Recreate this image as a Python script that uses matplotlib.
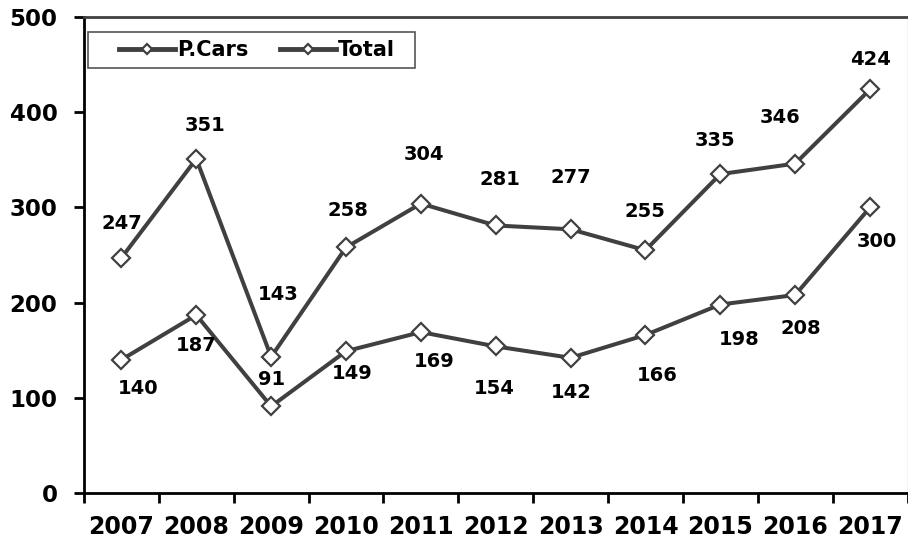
import matplotlib
matplotlib.use('Agg')
import matplotlib.pyplot as plt
from matplotlib.patches import Rectangle
import numpy as np

years = ['2007', '2008', '2009', '2010', '2011', '2012', '2013', '2014', '2015', '2016', '2017']
pcars = [140, 187, 91, 149, 169, 154, 142, 166, 198, 208, 300]
total = [247, 351, 143, 258, 304, 281, 277, 255, 335, 346, 424]

# label offsets in pixels (dx, dy) relative to each point
pcars_off = [(17, -29), (0, -31), (0, 27), (6, -22), (13, -29), (-2, -42),
             (1, -35), (12, -41), (19, -35), (6, -34), (7, -34)]
total_off = [(0, 34), (9, 33), (7, 62), (2, 37), (3, 49), (4, 46),
             (0, 52), (-1, 39), (-5, 34), (-15, 46), (0, 30)]

line_color = '#404040'
plt.rcParams['font.family'] = 'DejaVu Sans'
plt.rcParams['font.weight'] = 'bold'

W, H = 908, 542
fig = plt.figure(figsize=(W / 100, H / 100), dpi=100)
ax = fig.add_axes([84 / W, 1 - 493 / H, 823.5 / W, (493 - 17) / H])

x = np.arange(len(years))
for vals, offs, name in [(pcars, pcars_off, 'P.Cars'), (total, total_off, 'Total')]:
    ax.plot(x, vals, color=line_color, lw=2.9, marker='D', markersize=9,
            markerfacecolor='white', markeredgecolor=line_color,
            markeredgewidth=1.6, label=name, zorder=3)
    for xi, v, (dx, dy) in zip(x, vals, offs):
        ax.annotate(str(v), (xi, v), xytext=(dx, dy), textcoords='offset pixels',
                    ha='center', va='center', fontsize=14, fontweight='bold')

ax.set_xlim(-0.5, len(years) - 0.5)
ax.set_ylim(0, 500)
ax.set_yticks(np.arange(0, 501, 100))
ax.set_xticks(np.arange(-0.5, len(years), 1.0))
ax.set_xticklabels([])
ax.set_xticks(x, minor=True)
ax.set_xticklabels(years, minor=True)
ax.tick_params(axis='x', which='minor', length=0, pad=16, labelsize=17)
ax.tick_params(axis='x', which='major', length=7, width=2, direction='out')
ax.tick_params(axis='y', length=7, width=2, direction='out', labelsize=16.5, pad=12)
for lab in ax.get_xticklabels(minor=True) + ax.get_yticklabels():
    lab.set_fontweight('bold')

ax.spines['top'].set_color(line_color)
ax.spines['top'].set_linewidth(2)
ax.spines['right'].set_color('#c8c8c8')
ax.spines['right'].set_linewidth(1)
for s in ['left', 'bottom']:
    ax.spines[s].set_linewidth(2)
    ax.spines[s].set_color('black')

# legend: frameless entries plus a plain box drawn around them
leg = ax.legend(loc='center left', bbox_to_anchor=(119 / W, 1 - 50 / H),
                bbox_transform=fig.transFigure, ncol=2, frameon=False,
                markerscale=0.6, prop={'size': 15, 'weight': 'bold'},
                handlelength=2.7, handletextpad=0.1, columnspacing=1.5,
                borderpad=0, borderaxespad=0)
for h in leg.legend_handles:
    h.set_linewidth(3.5)
fig.patches.append(Rectangle((88 / W, 1 - 68 / H), (415 - 88) / W, 36 / H,
                             transform=fig.transFigure, fill=False,
                             edgecolor='#555555', linewidth=1.2, zorder=5))

fig.savefig('out.png', dpi=100)
